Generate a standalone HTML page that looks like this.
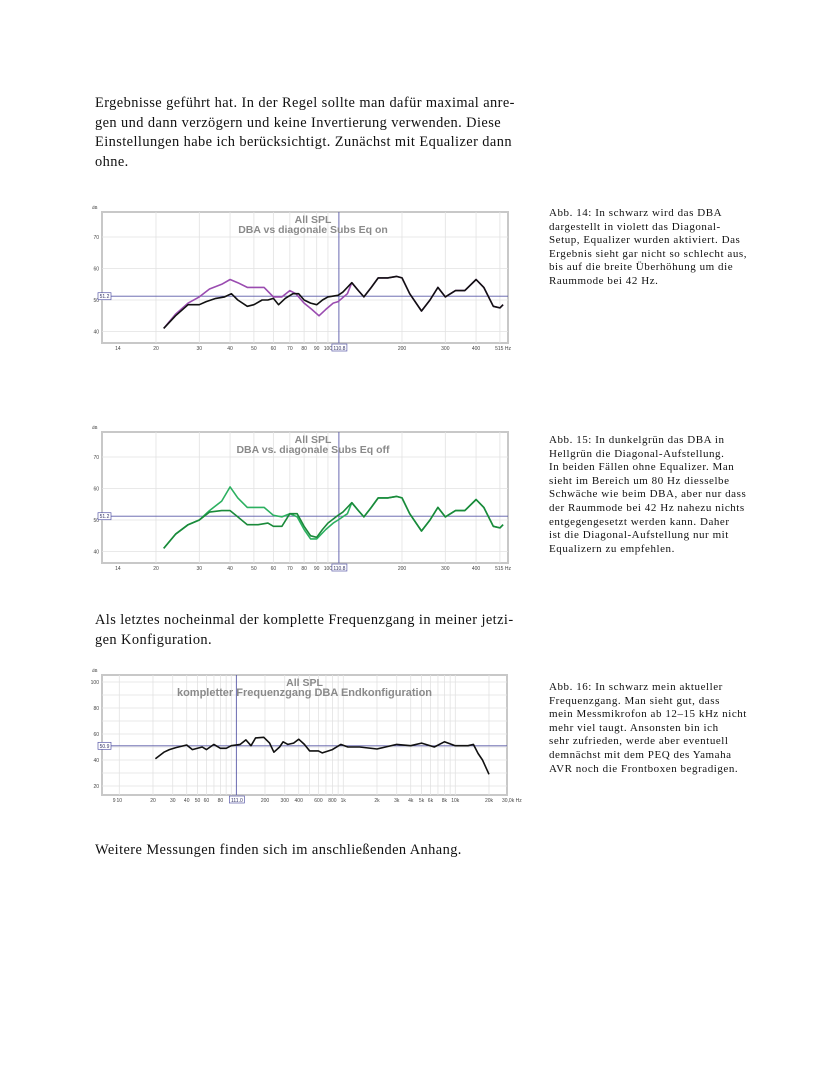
<!DOCTYPE html>
<html><head><meta charset="utf-8"><style>
body{margin:0;background:#fff;width:832px;height:1074px;position:relative;overflow:hidden;font-family:"Liberation Serif",serif;color:#111}
.p{position:absolute;left:95px;font-size:14.4px;line-height:19.6px;width:460px;letter-spacing:0.42px;white-space:nowrap}
.c{position:absolute;left:549px;font-size:11px;line-height:13.6px;width:240px;letter-spacing:0.55px;white-space:nowrap}
svg{position:absolute;left:0;top:0}
</style></head><body>
<div class="p" style="top:94px">Ergebnisse geführt hat. In der Regel sollte man dafür maximal anre-<br>gen und dann verzögern und keine Invertierung verwenden. Diese<br>Einstellungen habe ich berücksichtigt. Zunächst mit Equalizer dann<br>ohne.</div>
<div class="c" style="top:207px">Abb. 14: In schwarz wird das DBA<br>dargestellt in violett das Diagonal-<br>Setup, Equalizer wurden aktiviert. Das<br>Ergebnis sieht gar nicht so schlecht aus,<br>bis auf die breite Überhöhung um die<br>Raummode bei 42 Hz.</div>
<div class="c" style="top:434px">Abb. 15: In dunkelgrün das DBA in<br>Hellgrün die Diagonal-Aufstellung.<br>In beiden Fällen ohne Equalizer. Man<br>sieht im Bereich um 80 Hz diesselbe<br>Schwäche wie beim DBA, aber nur dass<br>der Raummode bei 42 Hz nahezu nichts<br>entgegengesetzt werden kann. Daher<br>ist die Diagonal-Aufstellung nur mit<br>Equalizern zu empfehlen.</div>
<div class="p" style="top:611px">Als letztes nocheinmal der komplette Frequenzgang in meiner jetzi-<br>gen Konfiguration.</div>
<div class="c" style="top:681px">Abb. 16: In schwarz mein aktueller<br>Frequenzgang. Man sieht gut, dass<br>mein Messmikrofon ab 12–15 kHz nicht<br>mehr viel taugt. Ansonsten bin ich<br>sehr zufrieden, werde aber eventuell<br>demnächst mit dem PEQ des Yamaha<br>AVR noch die Frontboxen begradigen.</div>
<div class="p" style="top:841px">Weitere Messungen finden sich im anschließenden Anhang.</div>
<svg id="s" width="832" height="1074" font-family="Liberation Sans, sans-serif"></svg>
<script>
var S=document.getElementById('s'),h='';
function L(v){return Math.log10(v)}
function chart(o){
 var fx=f=>o.x20+(L(f)-L(20))*o.pd, fy=d=>o.yr+(o.dr-d)*o.pp;
 h+='<rect x="'+o.l+'" y="'+o.t+'" width="'+(o.r-o.l)+'" height="'+(o.b-o.t)+'" fill="#fff" stroke="#c8c8c8" stroke-width="2"/>';
 o.vg.forEach(f=>{var x=fx(f);h+='<line x1="'+x+'" x2="'+x+'" y1="'+o.t+'" y2="'+o.b+'" stroke="#e2e2e2" stroke-width="0.8"/>'});
 o.hg.forEach(d=>{var y=fy(d);h+='<line x1="'+o.l+'" x2="'+o.r+'" y1="'+y+'" y2="'+y+'" stroke="#e2e2e2" stroke-width="0.8"/>'});
 o.yl.forEach(d=>{h+='<text x="'+(o.l-3)+'" y="'+(fy(d)+2)+'" font-size="5" text-anchor="end" fill="#444">'+d+'</text>'});
 h+='<text x="'+(o.l-10)+'" y="'+(o.t-3)+'" font-size="4.5" fill="#444">dB</text>';
 o.xl.forEach(a=>{h+='<text x="'+fx(a[0])+'" y="'+(o.b+7)+'" font-size="5" text-anchor="middle" fill="#444">'+a[1]+'</text>'});
 var yr=fy(o.ref),xc=fx(o.cur);
 h+='<line x1="'+o.l+'" x2="'+o.r+'" y1="'+yr+'" y2="'+yr+'" stroke="#5a5aa8" stroke-width="0.9"/>';
 h+='<line x1="'+xc+'" x2="'+xc+'" y1="'+o.t+'" y2="'+o.b+'" stroke="#5a5aa8" stroke-width="0.9"/>';
 h+='<rect x="'+(o.l-4)+'" y="'+(yr-3.5)+'" width="13" height="7" fill="#fff" stroke="#5a5aa8" stroke-width="0.7"/><text x="'+(o.l+2.5)+'" y="'+(yr+2)+'" font-size="5" text-anchor="middle" fill="#336">'+o.ref+'</text>';
 h+='<rect x="'+(xc-7)+'" y="'+(o.b+1)+'" width="15" height="7" fill="#fff" stroke="#5a5aa8" stroke-width="0.7"/><text x="'+(xc+0.5)+'" y="'+(o.b+7)+'" font-size="5" text-anchor="middle" fill="#336">'+o.curl+'</text>';
 var cx=(o.l+o.r)/2+o.tx;
 h+='<text x="'+cx+'" y="'+(o.t+11)+'" font-size="10.5" font-weight="bold" text-anchor="middle" fill="#8a8a8a">All SPL</text>';
 h+='<text x="'+cx+'" y="'+(o.t+21)+'" font-size="'+o.ts+'" font-weight="bold" text-anchor="middle" fill="#8a8a8a">'+o.title+'</text>';
 o.cv.forEach(c=>{var p=c.d.map(a=>fx(a[0]).toFixed(1)+','+fy(a[1]).toFixed(1));
  h+='<polyline points="'+p.join(' ')+'" fill="none" stroke="'+c.col+'" stroke-width="1.6" stroke-linejoin="round"/>'});
}
var tail=[[125,55.5],[133,53],[140,51],[150,54],[160,57],[175,57],[190,57.5],[200,57],[215,52],[240,46.5],[260,50],[280,54],[300,51],[330,53],[360,53],[400,56.5],[430,54],[470,48],[500,47.5],[515,48.5]];
var blk=[[21.5,41],[24,45],[27,48.5],[30,48.5],[32,49.5],[35,50.5],[38,51],[40.5,52],[43,50],[47,48],[50,48.5],[54,50],[57,50],[60,50.5],[63,48.5],[67,50.5],[72,52],[76,52],[80,50],[85,49],[90,48.5],[95,50],[100,51],[110,51.5],[115,52.5]].concat(tail);
var pur=[[21.5,41],[24,45.5],[27,49],[30,51],[33,53.5],[37,55],[40,56.5],[43,55.5],[47,54],[55,54],[60,51],[65,51],[70,53],[74,52],[80,49],[86,47],[92,45],[98,47],[105,49],[110,49.5],[120,52]].concat(tail);
var dg=[[21.5,41],[24,45.5],[27,48.5],[30,50],[33,52.5],[37,53],[40,53],[43,51],[47,48.5],[52,48.5],[57,49],[60,48],[65,48],[70,52],[75,52],[80,48],[85,45],[90,44.5],[95,47],[100,49],[110,51.5],[115,52.5]].concat(tail);
var lg=[[21.5,41],[24,45.5],[27,48.5],[30,50],[33,53],[37,56],[40,60.5],[43,57],[47,54],[55,54],[60,51.5],[65,51],[70,52],[75,51],[80,47],[85,44],[90,44],[98,47],[105,49],[110,50],[120,52]].concat(tail);
var vg1=[20,30,40,50,60,70,80,90,100,200,300,400,500];
var xl1=[[14,14],[20,20],[30,30],[40,40],[50,50],[60,60],[70,70],[80,80],[90,90],[100,100],[200,200],[300,300],[400,400],[515,'515 Hz']];
function base(t){return {l:102,r:508,t:t,b:t+131,x20:156,pd:246,yr:t+25,dr:70,pp:3.15,ref:51.2,cur:110.8,curl:'110.8',vg:vg1,hg:[40,50,60,70],yl:[40,50,60,70],xl:xl1,tx:8,ts:10.5};}
var a=base(212);a.title='DBA vs diagonale Subs Eq on';a.cv=[{col:'#9a4cb0',d:pur},{col:'#111',d:blk}];chart(a);
var b=base(432);b.title='DBA vs. diagonale Subs Eq off';b.cv=[{col:'#2cb060',d:lg},{col:'#1a8a3a',d:dg}];chart(b);
var c3=[[21,41],[25,46],[28,48],[32,49.5],[40,51.5],[45,48],[55,50],[60,48],[70,52],[80,49],[90,49],[100,51],[120,52],[135,55.5],[150,51],[165,57],[195,57.5],[220,53],[240,46],[270,50],[290,54],[320,52],[360,53],[400,56],[450,52],[500,47],[600,47],[650,45.5],[800,48],[950,52],[1100,50],[1400,50],[2000,48.5],[3000,52],[4000,51],[5000,53],[6500,50],[8000,54],[10000,51],[13000,51],[14500,52],[16000,45],[17500,40],[20000,29]];
var vg3=[10,20,30,40,50,60,70,80,90,100,200,300,400,500,600,700,800,900,1000,2000,3000,4000,5000,6000,7000,8000,9000,10000,20000];
var xl3=[[9,9],[10,10],[20,20],[30,30],[40,40],[50,50],[60,60],[80,80],[200,200],[300,300],[400,400],[600,600],[800,800],[1000,'1k'],[2000,'2k'],[3000,'3k'],[4000,'4k'],[5000,'5k'],[6000,'6k'],[8000,'8k'],[10000,'10k'],[20000,'20k'],[32000,'30,0k Hz']];
chart({l:102,r:507,t:675,b:795,x20:153,pd:112,yr:682,dr:100,pp:1.3,ref:50.9,cur:111,curl:'111.0',vg:vg3,hg:[20,30,40,50,60,70,80,90,100],yl:[20,40,60,80,100],xl:xl3,tx:0,ts:11,title:'kompletter Frequenzgang DBA Endkonfiguration',cv:[{col:'#111',d:c3}]});
S.innerHTML=h;
</script>
</body></html>
